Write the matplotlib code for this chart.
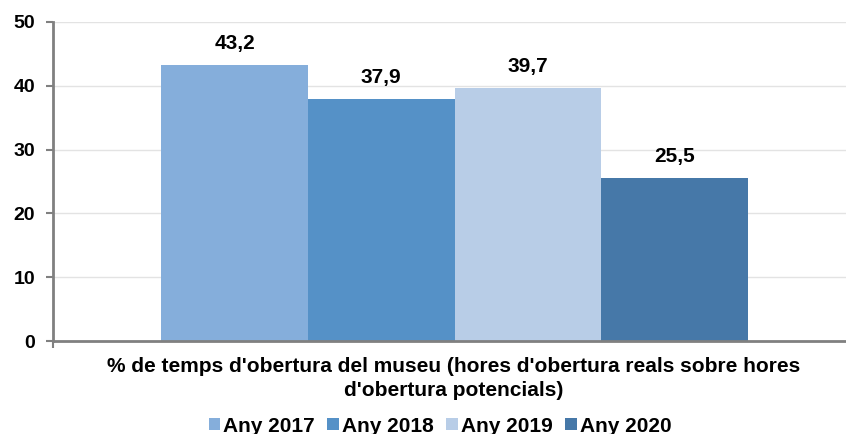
import matplotlib.pyplot as plt
import numpy as np

plt.rcParams['font.family'] = ['Liberation Sans', 'DejaVu Sans']
plt.rcParams['font.weight'] = 'bold'

category = "% de temps d'obertura del museu (hores d'obertura reals sobre hores\nd'obertura potencials)"
series = ["Any 2017", "Any 2018", "Any 2019", "Any 2020"]
values = [43.2, 37.9, 39.7, 25.5]
labels = ["43,2", "37,9", "39,7", "25,5"]
colors = ["#85AEDB", "#5591C7", "#B8CDE7", "#4678A8"]

fig = plt.figure(figsize=(8.46, 4.34), dpi=100)
ax = fig.add_axes([53 / 846, 93 / 434, 803 / 846, 319 / 434])

group_width = 0.73
bar_w = group_width / len(series)
x0 = 0 - group_width / 2 + bar_w / 2
for i, (name, v, lab, c) in enumerate(zip(series, values, labels, colors)):
    xpos = x0 + i * bar_w
    ax.bar(xpos, v, width=bar_w, color=c, label=name, zorder=2)
    ax.text(xpos, v + 2.5, lab, ha="center", va="baseline", fontsize=15, fontweight="bold")

ax.set_xlim(-0.5, 0.5)
ax.set_ylim(0, 50)
ax.set_yticks(np.arange(0, 51, 10))
ax.yaxis.grid(True, color="#E3E3E3", linewidth=1, zorder=0)
# category boundary tick
ax.set_xticks([-0.5])
ax.set_xticklabels([""])

for s in ["top", "right"]:
    ax.spines[s].set_visible(False)
for s in ["left", "bottom"]:
    ax.spines[s].set_color("#808080")
    ax.spines[s].set_linewidth(2)
ax.tick_params(axis="both", direction="out", length=5, width=1.5, color="#808080",
               labelsize=14, pad=8)

# category label under the axis, two lines
fig.text(454 / 846, 1 - 357 / 434, category, ha="center", va="top",
         fontsize=15, fontweight="bold", linespacing=1.35)

leg = fig.legend(loc="center", bbox_to_anchor=(440 / 846, 1 - 426 / 434), ncol=4,
                 frameon=False, fontsize=15, handlelength=0.55, handleheight=0.55,
                 handletextpad=0.15, columnspacing=0.6, borderaxespad=0)

fig.savefig("out.png", dpi=100)
